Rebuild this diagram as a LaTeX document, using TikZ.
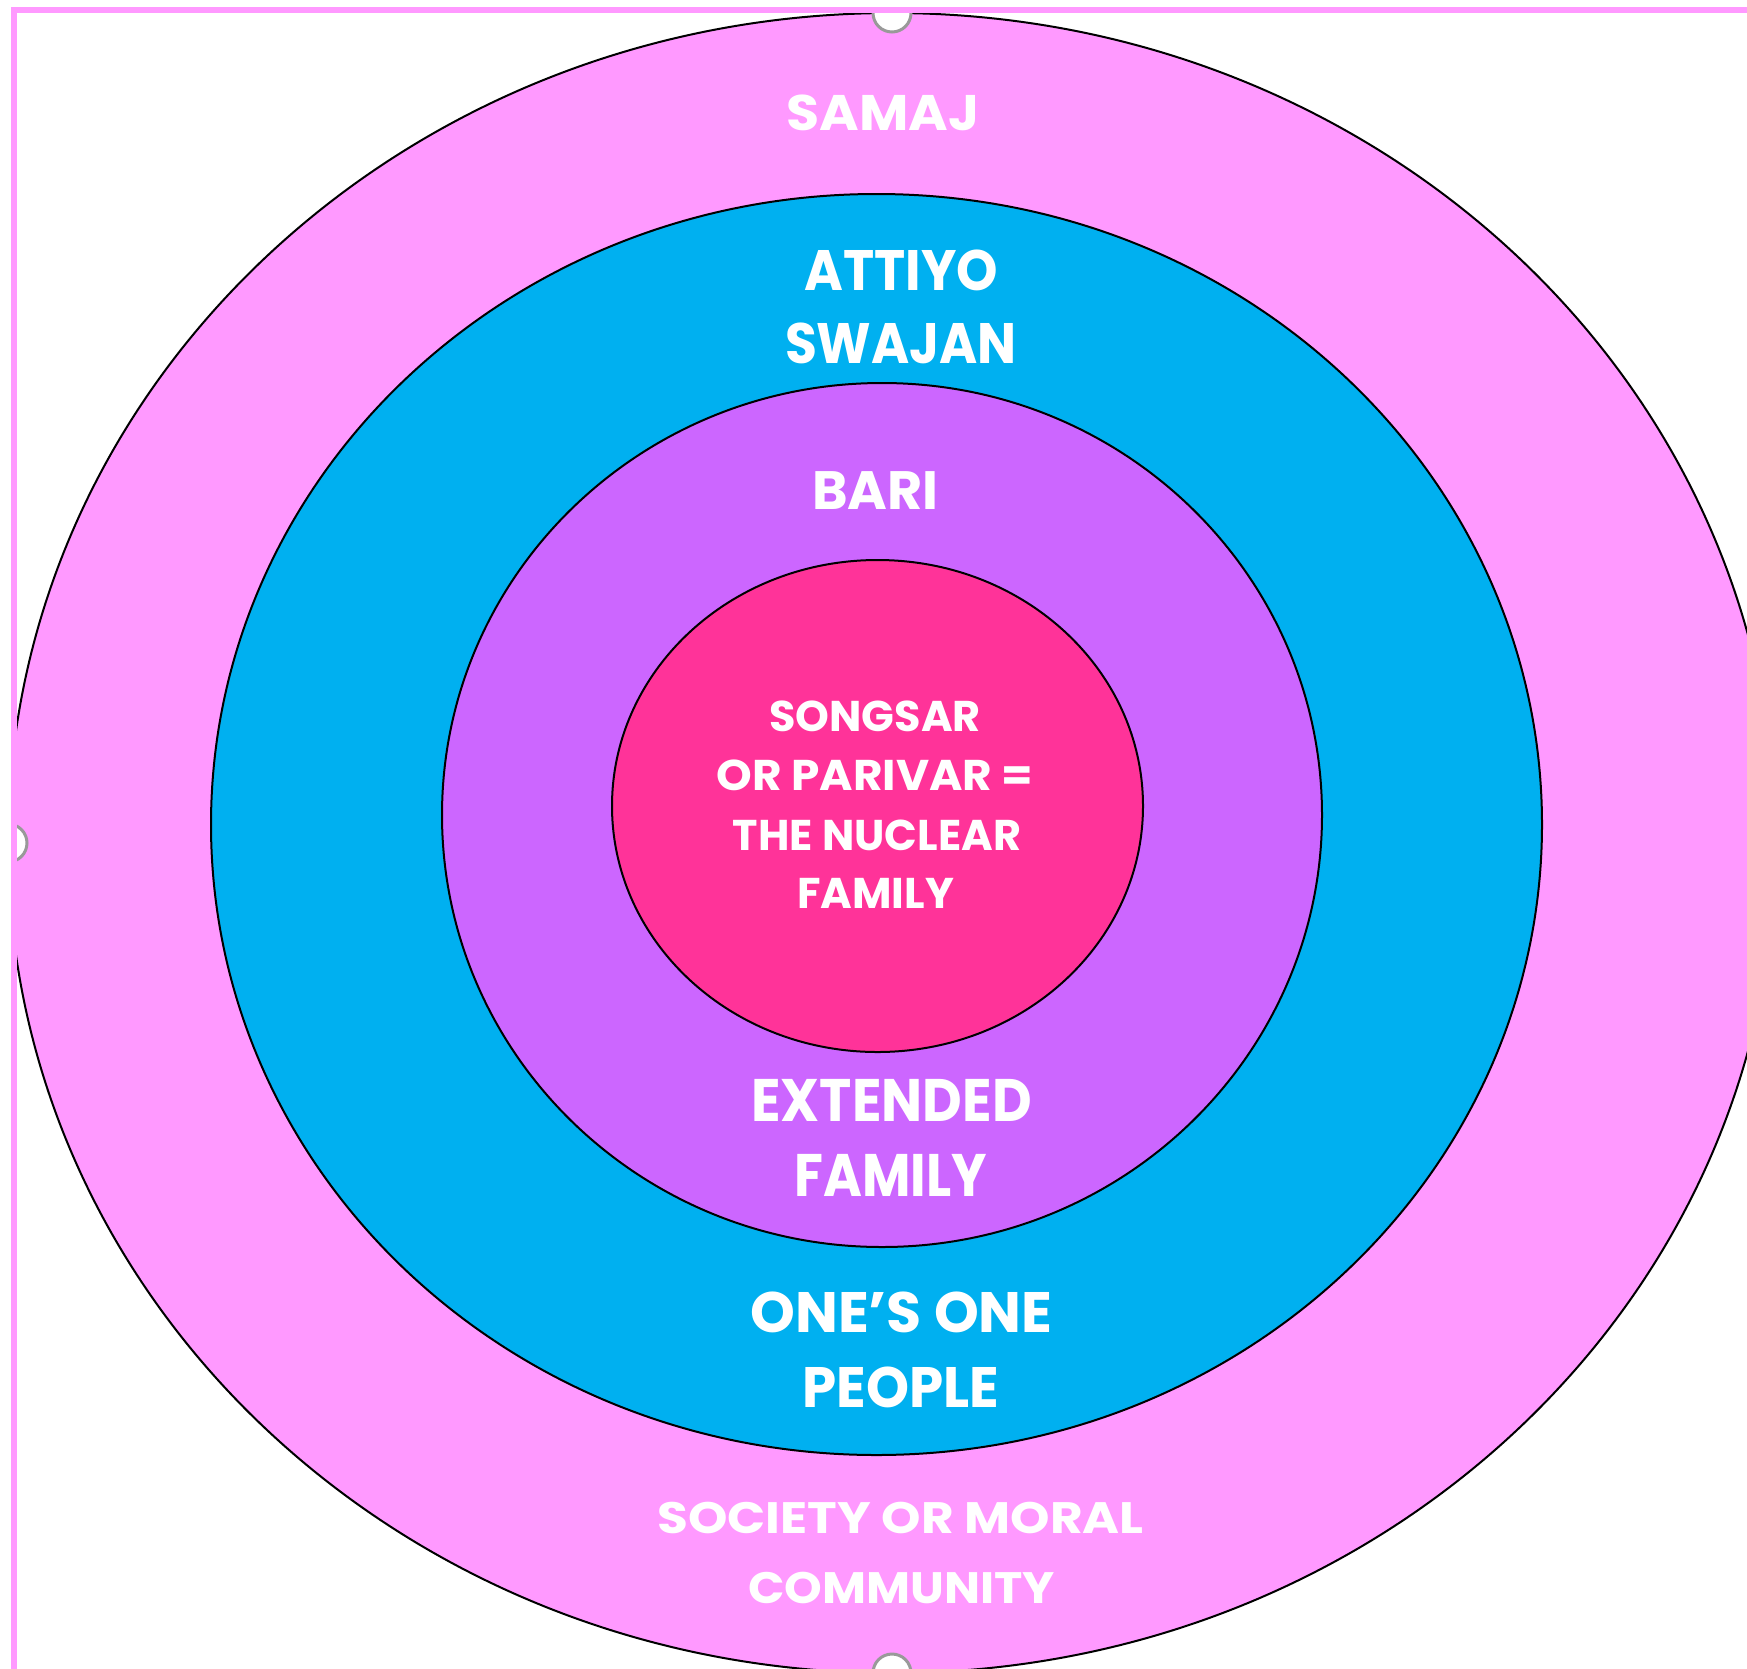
\documentclass[tikz,border=0pt]{standalone}
\usepackage{graphicx}
\usepackage{fontspec}
\setmainfont{Poppins}
\newcommand{\sx}[2]{\scalebox{#1}[1]{#2}}
\begin{document}
\begin{tikzpicture}[x=1pt,y=-1pt,
  ring/.style={draw=black,line width=2pt},
  lbl/.style={text=white,font=\bfseries,anchor=base,inner sep=0pt},
  handle/.style={draw=black!40,fill=white,line width=3pt}]
\definecolor{samajpink}{RGB}{255,153,255}
\definecolor{attiyoblue}{RGB}{0,176,240}
\definecolor{baripurple}{RGB}{204,102,255}
\definecolor{corepink}{RGB}{255,51,153}
\useasboundingbox (0,0) rectangle (1747,1668);
\fill[white] (0,0) rectangle (1747,1668);

% concentric circles, cut off at the slide border
\begin{scope}
  \clip (16,13) rectangle (1747,1668);
  \draw[ring,fill=samajpink]  (892,843) ellipse [x radius=884, y radius=830];
  \draw[ring,fill=attiyoblue] (876.5,824.5) ellipse [x radius=665.5, y radius=630.5];
  \draw[ring,fill=baripurple] (882,815) ellipse [x radius=440, y radius=432];
  \draw[ring,fill=corepink]   (877.5,806) ellipse [x radius=265.5, y radius=246];
  % selection handles on the outer ring
  \draw[handle] (892,13) circle [radius=19];
  \draw[handle] (8,843) circle [radius=19];
  \draw[handle] (892,1673) circle [radius=19];
\end{scope}

% slide border
\draw[samajpink,line width=6pt] (13.5,1680) -- (13.5,10) -- (1760,10);

% labels
\node[lbl,font=\bfseries\fontsize{50}{60}\selectfont] (samaj) at (883,130) {\sx{1.076}{SAMAJ}};
\node[lbl,font=\bfseries\fontsize{57}{68}\selectfont] (attiyoA) at (901.5,290) {\sx{0.925}{ATTIYO}};
\node[lbl,font=\bfseries\fontsize{57}{68}\selectfont] (attiyoB) at (901,363) {\sx{0.91}{SWAJAN}};
\node[lbl,font=\bfseries\fontsize{54}{64}\selectfont] (bari) at (875.5,509) {BARI};
\node[lbl,font=\bfseries\fontsize{43}{52}\selectfont] (coreA) at (875,731) {SONGSAR};
\node[lbl,font=\bfseries\fontsize{43}{52}\selectfont] (coreB) at (875,790) {\sx{1.056}{OR PARIVAR =}};
\node[lbl,font=\bfseries\fontsize{43}{52}\selectfont] (coreC) at (877,850) {THE NUCLEAR};
\node[lbl,font=\bfseries\fontsize{43}{52}\selectfont] (coreD) at (875.5,908) {FAMILY};
\node[lbl,font=\bfseries\fontsize{60}{72}\selectfont] (extA) at (891.5,1121) {\sx{0.91}{EXTENDED}};
\node[lbl,font=\bfseries\fontsize{60}{72}\selectfont] (extB) at (890.5,1196) {\sx{0.88}{FAMILY}};
\node[lbl,font=\bfseries\fontsize{57}{68}\selectfont] (ownA) at (901.5,1332) {ONE’S ONE};
\node[lbl,font=\bfseries\fontsize{57}{68}\selectfont] (ownB) at (901,1407) {\sx{0.96}{PEOPLE}};
\node[lbl,font=\bfseries\fontsize{44}{53}\selectfont] (socA) at (900.5,1533) {\sx{1.14}{SOCIETY OR MORAL}};
\node[lbl,font=\bfseries\fontsize{44}{53}\selectfont] (socB) at (901.5,1603) {\sx{1.09}{COMMUNITY}};
\end{tikzpicture}
\end{document}
